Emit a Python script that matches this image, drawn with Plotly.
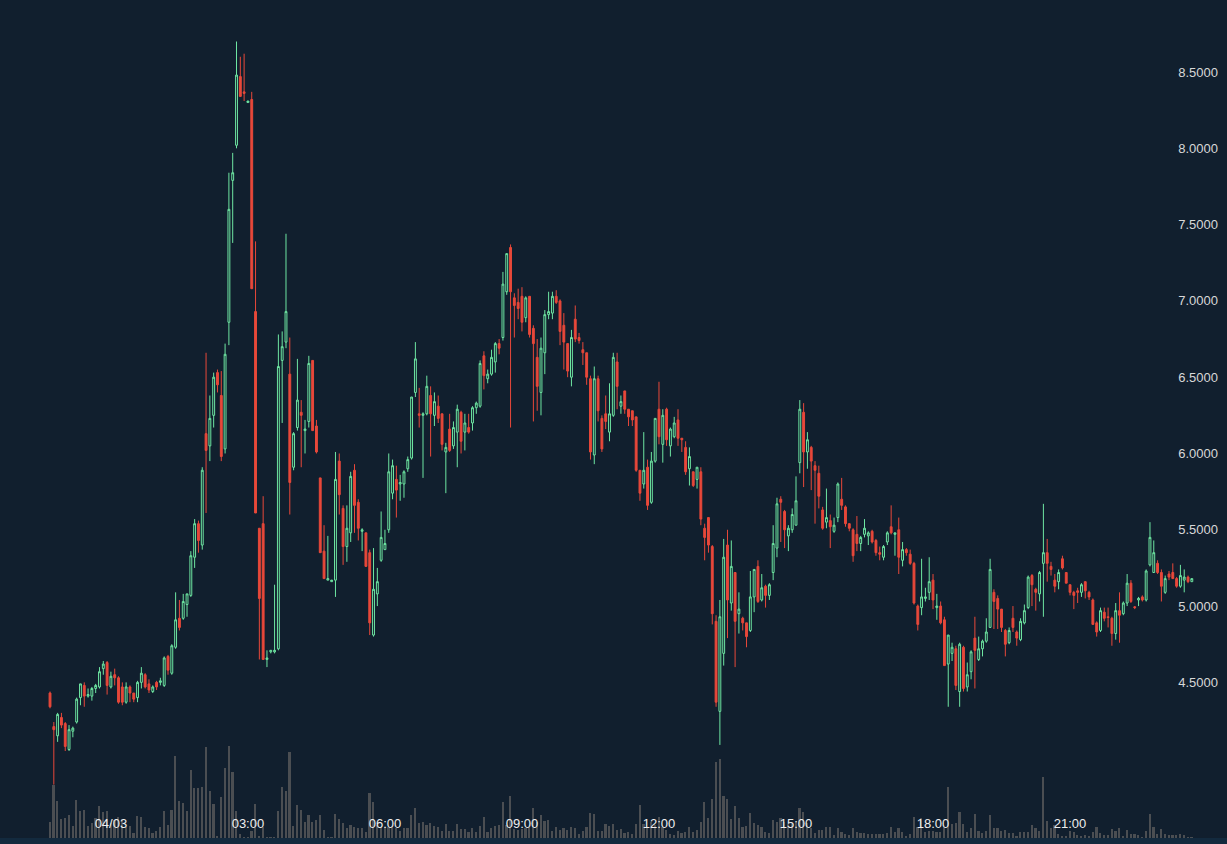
import pandas as pd
import plotly.graph_objects as go

# 5-minute candles, 04/02 22:40 -> 04/03 23:40
start_time = "2025-04-02 22:40"

opens = [
    4.43, 4.21, 4.15, 4.27, 4.23, 4.06, 4.18, 4.24, 4.40, 4.48,
    4.41, 4.41, 4.46, 4.47, 4.59, 4.63, 4.47, 4.55, 4.53, 4.47,
    4.37, 4.47, 4.43, 4.40, 4.50, 4.55, 4.49, 4.44, 4.50, 4.50,
    4.48, 4.67, 4.56, 4.73, 4.92, 4.92, 5.01, 5.07, 5.32, 5.54,
    5.40, 6.13, 6.05, 6.25, 6.53, 6.38, 6.03, 6.86, 7.79, 8.02,
    8.47, 8.37, 8.30, 8.32, 6.93, 5.51, 5.54, 4.65, 4.70, 4.70,
    4.72, 6.61, 6.73, 6.52, 5.91, 6.17, 6.27, 6.15, 6.21, 6.61,
    6.18, 5.84, 5.36, 5.17, 5.16, 5.17, 5.95, 5.64, 5.39, 5.48,
    5.89, 5.68, 5.49, 5.48, 5.35, 4.81, 5.08, 5.30, 5.37, 5.50,
    5.74, 5.83, 5.80, 5.80, 5.90, 5.97, 6.40, 6.26, 6.25, 6.26,
    6.38, 6.25, 6.31, 6.26, 6.01, 6.16, 6.05, 6.14, 6.27, 6.14,
    6.17, 6.20, 6.30, 6.31, 6.64, 6.49, 6.52, 6.60, 6.72, 6.76,
    7.06, 7.35, 7.02, 6.99, 7.03, 6.89, 7.03, 6.82, 6.63, 6.40,
    6.66, 6.91, 6.92, 7.03, 7.00, 6.84, 6.72, 6.50, 6.88, 6.76,
    6.68, 6.66, 6.49, 5.99, 6.49, 6.23, 6.26, 6.14, 6.25, 6.60,
    6.31, 6.41, 6.29, 6.28, 6.24, 5.89, 5.80, 5.91, 5.68, 5.95,
    6.29, 6.06, 6.29, 6.05, 6.11, 6.22, 6.10, 6.04, 5.90, 5.88,
    5.83, 5.88, 5.51, 5.58, 5.39, 4.90, 4.31, 4.69, 5.40, 5.02,
    5.22, 4.95, 4.92, 4.89, 4.84, 5.06, 5.26, 5.04, 5.13, 5.07,
    5.22, 5.38, 5.70, 5.62, 5.46, 5.50, 5.53, 5.94, 6.27, 6.01,
    6.04, 5.92, 5.87, 5.63, 5.55, 5.56, 5.49, 5.58, 5.70, 5.65,
    5.54, 5.50, 5.47, 5.41, 5.47, 5.46, 5.49, 5.43, 5.35, 5.32,
    5.42, 5.52, 5.47, 5.50, 5.30, 5.37, 5.34, 5.28, 5.00, 4.99,
    5.05, 5.09, 5.17, 4.99, 5.00, 4.91, 4.62, 4.69, 4.72, 4.44,
    4.73, 4.47, 4.57, 4.79, 4.65, 4.72, 4.77, 4.86, 5.09, 5.05,
    4.98, 4.84, 4.76, 4.92, 4.83, 4.78, 4.89, 4.99, 5.20, 5.11,
    5.08, 5.28, 5.35, 5.26, 5.17, 5.16, 5.31, 5.22, 5.14, 5.09,
    5.10, 5.09, 5.16, 5.09, 5.04, 4.89, 4.84, 4.96, 4.93, 4.92,
    4.82, 4.97, 4.95, 5.02, 5.15, 4.995, 5.04, 5.06, 5.04, 5.27,
    5.22, 5.28, 5.22, 5.09, 5.21, 5.22, 5.18, 5.13, 5.17, 5.19,
    5.16,
]

highs = [
    4.44, 4.24, 4.30, 4.30, 4.24, 4.22, 4.21, 4.40, 4.49, 4.50,
    4.46, 4.47, 4.49, 4.60, 4.64, 4.64, 4.57, 4.59, 4.54, 4.50,
    4.50, 4.48, 4.43, 4.51, 4.60, 4.56, 4.52, 4.48, 4.51, 4.53,
    4.67, 4.68, 4.75, 5.09, 5.04, 5.08, 5.08, 5.36, 5.57, 5.56,
    5.91, 6.66, 6.38, 6.53, 6.55, 6.54, 6.72, 7.84, 7.97, 8.70,
    8.60, 8.62, 8.31, 8.37, 7.39, 5.51, 5.72, 4.71, 4.71, 5.14,
    6.78, 6.80, 7.44, 6.76, 6.14, 6.62, 6.35, 6.22, 6.64, 6.61,
    6.22, 5.84, 5.53, 5.46, 5.17, 6.01, 6.00, 5.66, 5.66, 5.88,
    5.93, 5.70, 5.51, 5.48, 5.37, 5.38, 5.25, 5.62, 5.50, 6.00,
    5.96, 5.92, 5.86, 5.89, 5.98, 6.37, 6.73, 6.43, 6.27, 6.51,
    6.44, 6.40, 6.38, 6.26, 6.07, 6.26, 6.21, 6.32, 6.28, 6.26,
    6.26, 6.31, 6.34, 6.61, 6.67, 6.55, 6.68, 6.73, 6.75, 7.19,
    7.31, 7.37, 7.05, 7.08, 7.09, 7.03, 7.03, 6.84, 6.75, 6.76,
    6.94, 7.06, 7.06, 7.07, 7.01, 6.92, 6.72, 6.81, 6.97, 6.79,
    6.73, 6.66, 6.51, 6.57, 6.51, 6.25, 6.38, 6.46, 6.66, 6.66,
    6.38, 6.41, 6.29, 6.28, 6.24, 5.89, 6.14, 5.96, 6.01, 6.23,
    6.47, 6.29, 6.30, 6.17, 6.24, 6.29, 6.10, 6.08, 6.04, 5.88,
    5.91, 5.91, 5.54, 5.58, 5.40, 4.94, 5.04, 5.44, 5.50, 5.43,
    5.22, 5.09, 4.93, 4.89, 5.23, 5.24, 5.30, 5.21, 5.14, 5.15,
    5.53, 5.71, 5.72, 5.63, 5.53, 5.64, 5.85, 6.35, 6.33, 6.14,
    6.05, 5.95, 5.92, 5.65, 5.77, 5.60, 5.58, 5.81, 5.84, 5.66,
    5.54, 5.51, 5.59, 5.46, 5.57, 5.49, 5.50, 5.44, 5.39, 5.40,
    5.49, 5.66, 5.48, 5.58, 5.42, 5.38, 5.37, 5.29, 5.01, 5.31,
    5.12, 5.32, 5.21, 5.08, 5.03, 4.93, 4.81, 4.76, 4.74, 4.76,
    4.74, 4.63, 4.71, 4.93, 4.80, 4.78, 4.92, 5.31, 5.11, 5.07,
    4.98, 4.85, 4.86, 5.00, 4.84, 4.92, 5.01, 5.20, 5.21, 5.12,
    5.23, 5.67, 5.44, 5.29, 5.21, 5.24, 5.33, 5.22, 5.14, 5.10,
    5.12, 5.15, 5.16, 5.10, 5.05, 4.90, 4.99, 4.99, 4.99, 4.93,
    5.02, 5.09, 5.03, 5.21, 5.17, 5.00, 5.06, 5.07, 5.24, 5.55,
    5.43, 5.30, 5.24, 5.20, 5.23, 5.28, 5.19, 5.27, 5.24, 5.20,
    5.18,
]

lows = [
    4.33, 3.83, 4.11, 4.20, 4.05, 4.05, 4.14, 4.23, 4.35, 4.34,
    4.40, 4.38, 4.43, 4.46, 4.55, 4.42, 4.46, 4.48, 4.36, 4.35,
    4.36, 4.37, 4.37, 4.37, 4.46, 4.46, 4.43, 4.43, 4.45, 4.48,
    4.47, 4.55, 4.55, 4.72, 4.84, 4.91, 4.93, 5.06, 5.25, 5.35,
    5.37, 5.61, 5.95, 6.17, 6.40, 5.95, 6.00, 6.71, 7.38, 8.00,
    8.34, 8.31, 8.30, 7.08, 5.61, 4.65, 4.65, 4.60, 4.69, 4.69,
    4.71, 6.20, 6.69, 5.60, 5.89, 6.15, 5.91, 6.00, 6.17, 6.15,
    6.00, 5.35, 5.18, 5.17, 5.16, 5.06, 5.60, 5.27, 5.29, 5.42,
    5.48, 5.43, 5.36, 5.26, 4.81, 4.80, 5.00, 5.29, 5.37, 5.48,
    5.70, 5.58, 5.69, 5.71, 5.88, 5.96, 6.37, 6.17, 5.84, 6.25,
    5.98, 6.18, 6.20, 6.02, 5.74, 6.01, 6.03, 5.91, 6.00, 6.02,
    6.13, 6.15, 6.26, 6.30, 6.42, 6.46, 6.51, 6.53, 6.65, 6.74,
    7.04, 6.17, 6.76, 6.88, 6.80, 6.86, 6.76, 6.21, 6.28, 6.25,
    6.52, 6.88, 6.88, 6.98, 6.71, 6.55, 6.50, 6.44, 6.73, 6.72,
    6.58, 6.45, 5.96, 5.93, 6.21, 6.01, 6.16, 6.08, 6.24, 6.29,
    6.26, 6.26, 6.18, 6.18, 5.88, 5.69, 5.77, 5.63, 5.67, 5.94,
    6.06, 5.94, 6.05, 5.98, 6.10, 6.05, 6.01, 5.86, 5.79, 5.78,
    5.77, 5.53, 5.30, 5.35, 4.88, 4.34, 4.09, 4.61, 4.79, 4.97,
    4.60, 4.82, 4.84, 4.73, 4.83, 4.96, 5.02, 5.03, 4.99, 5.04,
    5.17, 5.32, 5.42, 5.38, 5.36, 5.48, 5.53, 5.87, 5.78, 5.90,
    5.76, 5.54, 5.64, 5.50, 5.51, 5.38, 5.48, 5.55, 5.63, 5.52,
    5.49, 5.29, 5.36, 5.36, 5.45, 5.40, 5.41, 5.33, 5.30, 5.30,
    5.40, 5.47, 5.33, 5.21, 5.26, 5.33, 5.27, 5.01, 4.84, 4.94,
    5.03, 5.04, 4.98, 4.91, 4.88, 4.61, 4.34, 4.64, 4.45, 4.34,
    4.44, 4.44, 4.52, 4.46, 4.64, 4.67, 4.76, 4.86, 4.85, 4.85,
    4.83, 4.67, 4.75, 4.83, 4.74, 4.77, 4.88, 4.98, 5.00, 4.97,
    5.03, 4.93, 5.16, 5.20, 5.09, 5.11, 5.24, 5.15, 5.07, 4.98,
    5.02, 5.06, 5.05, 5.04, 4.88, 4.80, 4.83, 4.90, 4.86, 4.74,
    4.78, 4.76, 4.94, 5.00, 5.02, 4.98, 5.00, 5.03, 5.03, 5.26,
    5.22, 5.21, 5.03, 5.08, 5.17, 5.18, 5.12, 5.12, 5.09, 5.15,
    5.16,
]

closes = [
    4.34, 4.19, 4.29, 4.22, 4.08, 4.19, 4.20, 4.39, 4.49, 4.41,
    4.42, 4.46, 4.48, 4.57, 4.62, 4.48, 4.54, 4.53, 4.37, 4.37,
    4.47, 4.43, 4.39, 4.50, 4.56, 4.47, 4.45, 4.47, 4.47, 4.51,
    4.66, 4.58, 4.74, 4.91, 4.86, 5.03, 5.08, 5.33, 5.54, 5.43,
    5.89, 6.02, 6.23, 6.50, 6.45, 5.98, 6.65, 7.60, 7.84, 8.48,
    8.34, 8.36, 8.31, 7.08, 5.61, 5.05, 4.65, 4.66, 4.71, 4.71,
    6.57, 6.70, 6.93, 5.81, 6.13, 6.35, 6.25, 6.16, 6.59, 6.15,
    6.01, 5.35, 5.18, 5.18, 5.17, 5.83, 5.73, 5.39, 5.51, 5.85,
    5.66, 5.51, 5.50, 5.26, 4.89, 5.11, 5.16, 5.45, 5.41, 5.88,
    5.92, 5.76, 5.81, 5.88, 5.96, 6.37, 6.62, 6.25, 6.26, 6.44,
    6.26, 6.34, 6.23, 6.06, 6.04, 6.02, 6.17, 6.29, 6.08, 6.20,
    6.14, 6.30, 6.33, 6.59, 6.51, 6.52, 6.63, 6.72, 6.69, 7.11,
    7.31, 7.06, 6.97, 6.95, 6.86, 7.02, 6.78, 6.72, 6.44, 6.69,
    6.91, 6.93, 7.03, 6.99, 6.80, 6.73, 6.54, 6.76, 6.75, 6.74,
    6.66, 6.50, 6.01, 6.49, 6.28, 6.03, 6.21, 6.26, 6.63, 6.44,
    6.34, 6.29, 6.24, 6.22, 5.89, 5.74, 5.89, 5.66, 5.95, 6.23,
    6.11, 6.25, 6.09, 6.16, 6.20, 6.10, 6.09, 5.88, 5.98, 5.79,
    5.91, 5.57, 5.45, 5.40, 4.95, 4.37, 4.93, 5.32, 5.04, 5.26,
    4.90, 4.98, 4.89, 4.80, 5.06, 5.24, 5.03, 5.12, 5.07, 5.14,
    5.41, 5.67, 5.68, 5.50, 5.51, 5.60, 5.69, 6.29, 6.01, 6.09,
    5.95, 5.89, 5.72, 5.51, 5.58, 5.52, 5.53, 5.80, 5.66, 5.54,
    5.51, 5.33, 5.41, 5.45, 5.51, 5.48, 5.42, 5.35, 5.34, 5.39,
    5.48, 5.48, 5.48, 5.32, 5.37, 5.35, 5.28, 5.02, 4.88, 5.06,
    5.06, 5.16, 5.04, 5.00, 4.89, 4.61, 4.81, 4.73, 4.48, 4.75,
    4.46, 4.55, 4.70, 4.71, 4.72, 4.77, 4.83, 5.24, 5.03, 4.98,
    4.86, 4.75, 4.84, 4.86, 4.79, 4.90, 4.97, 5.19, 5.14, 5.09,
    5.22, 5.35, 5.28, 5.24, 5.13, 5.22, 5.25, 5.15, 5.09, 5.07,
    5.09, 5.14, 5.10, 5.06, 4.88, 4.83, 4.97, 4.92, 4.925, 4.82,
    4.97, 4.94, 5.02, 5.15, 5.03, 4.99, 5.05, 5.04, 5.23, 5.45,
    5.35, 5.22, 5.13, 5.18, 5.19, 5.18, 5.13, 5.20, 5.19, 5.16,
    5.18,
]

volumes = [
    16, 53, 37, 19, 20, 23, 12, 38, 27, 28,
    12, 15, 20, 32, 26, 27, 15, 18, 21, 19,
    11, 12, 5, 22, 21, 11, 10, 5, 7, 11,
    27, 13, 28, 82, 37, 35, 27, 68, 50, 50,
    51, 91, 47, 34, 2, 41, 70, 92, 66, 27,
    4, 1, 1, 7, 34, 2, 11, 1, 1, 1,
    27, 51, 47, 86, 12, 33, 28, 16, 23, 16,
    18, 23, 8, 1, 1, 24, 19, 15, 10, 13,
    11, 10, 10, 6, 45, 36, 13, 11, 11, 11,
    12, 10, 7, 10, 10, 23, 30, 15, 16, 13,
    15, 12, 11, 7, 14, 7, 7, 14, 9, 9,
    6, 10, 6, 12, 21, 6, 10, 12, 13, 36,
    13, 42, 9, 8, 9, 10, 11, 30, 16, 23,
    17, 18, 7, 11, 8, 10, 8, 11, 10, 4,
    7, 11, 25, 24, 7, 7, 14, 12, 14, 8,
    9, 5, 6, 4, 14, 33, 14, 11, 16, 13,
    21, 11, 8, 4, 3, 7, 5, 6, 11, 6,
    8, 16, 36, 20, 39, 76, 79, 42, 39, 19,
    32, 20, 11, 12, 25, 15, 13, 11, 6, 5,
    18, 16, 20, 16, 14, 14, 16, 30, 26, 15,
    10, 5, 8, 8, 11, 11, 3, 10, 6, 4,
    3, 10, 6, 5, 5, 4, 4, 4, 4, 4,
    5, 11, 6, 10, 6, 2, 4, 21, 11, 20,
    6, 7, 7, 6, 6, 11, 51, 14, 15, 26,
    14, 6, 10, 24, 7, 5, 7, 23, 10, 10,
    7, 8, 5, 5, 2, 6, 6, 6, 13, 10,
    7, 61, 17, 10, 13, 4, 2, 2, 7, 6,
    3, 2, 3, 2, 6, 11, 5, 3, 3, 9,
    7, 10, 2, 8, 4, 4, 3, 1, 7, 24,
    11, 4, 9, 4, 3, 3, 3, 4, 3, 1,
    1,
]

tick_times = ["2025-04-03 00:00", "2025-04-03 03:00", "2025-04-03 06:00",
              "2025-04-03 09:00", "2025-04-03 12:00", "2025-04-03 15:00",
              "2025-04-03 18:00", "2025-04-03 21:00"]
tick_text = ["04/03", "03:00", "06:00", "09:00", "12:00", "15:00", "18:00", "21:00"]
price_ticks = [4.5, 5.0, 5.5, 6.0, 6.5, 7.0, 7.5, 8.0, 8.5]

times = pd.date_range(start_time, periods=len(closes), freq="5min")

bg = "#111f2e"
up = "#6ee6a2"
down = "#e8483a"

fig = go.Figure()

fig.add_trace(go.Bar(
    x=times, y=volumes, yaxis="y2",
    marker=dict(color="#4b4e52", line=dict(width=0)),
    width=2.2 * 60 * 1000,
    hoverinfo="skip",
))

fig.add_trace(go.Candlestick(
    x=times, open=opens, high=highs, low=lows, close=closes,
    increasing=dict(line=dict(color=up, width=1), fillcolor=bg),
    decreasing=dict(line=dict(color=down, width=1), fillcolor=down),
    whiskerwidth=0,
    hoverinfo="skip",
))

fig.add_shape(type="rect", xref="paper", yref="paper",
              x0=0, x1=1, y0=-0.008, y1=0,
              fillcolor="#132a3e", line=dict(width=0), layer="below")

fig.update_layout(
    width=1227,
    height=844,
    showlegend=False,
    plot_bgcolor=bg,
    paper_bgcolor=bg,
    margin=dict(l=0, r=0, t=0, b=6),
    font=dict(family="Liberation Sans, Arial, sans-serif", size=13, color="#e6e6e6"),
    bargap=0,
    xaxis=dict(
        type="date",
        range=["2025-04-02 21:34:18", "2025-04-04 00:26:12"],
        rangeslider=dict(visible=False),
        showgrid=False, zeroline=False, showline=False,
        tickvals=tick_times, ticktext=tick_text,
        ticklabelposition="inside", ticks="",
        tickfont=dict(size=13, color="#eeeeee"),
        ticklabelstandoff=4,
    ),
    yaxis=dict(
        range=[3.480, 8.972],
        side="right",
        showgrid=False, zeroline=False, showline=False,
        tickvals=price_ticks, tickformat=".4f",
        ticklabelposition="inside", ticks="",
        tickfont=dict(size=13, color="#d8d8d8"),
        ticklabelstandoff=6,
    ),
    yaxis2=dict(
        overlaying="y",
        range=[0, 838],
        visible=False,
    ),
)

fig.write_html("out.html", config={"displayModeBar": False},
               post_script="document.body.style.margin='0';")
